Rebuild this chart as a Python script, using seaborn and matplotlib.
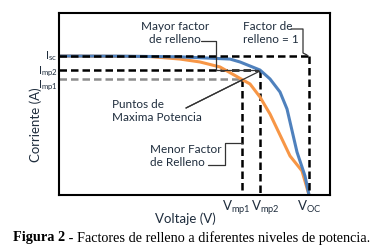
import matplotlib
matplotlib.use("Agg")
import matplotlib.pyplot as plt
import matplotlib.transforms as mtransforms
import seaborn as sns
import pandas as pd

sns.set_style("white")
plt.rcParams['font.family'] = ['Lato', 'DejaVu Sans']
plt.rcParams['mathtext.fontset'] = 'custom'
plt.rcParams['mathtext.rm'] = 'Lato'

# Data (Voc = 1, Isc = 1)
v_high = [0, 0.244, 0.484, 0.684, 0.724, 0.804, 0.844, 0.884, 0.912, 0.952, 0.984, 1.0]
i_high = [1.0, 0.999, 0.994, 0.978, 0.957, 0.899, 0.835, 0.741, 0.619, 0.309, 0.137, 0.0]
v_low = [0, 0.364, 0.484, 0.564, 0.644, 0.732, 0.764, 0.804, 0.832, 0.844, 0.924, 0.972, 1.0]
i_low = [1.0, 0.996, 0.978, 0.957, 0.921, 0.831, 0.799, 0.705, 0.619, 0.583, 0.281, 0.173, 0.0]

Isc, Imp2, Imp1 = 1.0, 0.899, 0.831
Voc, Vmp2, Vmp1 = 1.0, 0.804, 0.732
ytick_labels = [r'I$_{\mathregular{sc}}$', r'I$_{\mathregular{mp2}}$', r'I$_{\mathregular{mp1}}$']
xtick_labels = [r'V$_{\mathregular{mp1}}$', r'V$_{\mathregular{mp2}}$', r'V$_{\mathregular{OC}}$']

W, H = 384, 251
fig = plt.figure(figsize=(W / 100, H / 100), dpi=100)
L, T, R, B = 59, 14, 330, 196
ax = fig.add_axes([L / W, 1 - B / H, (R - L) / W, (B - T) / H])

XMAX = (R - L) / 250
YMAX = (B - T) / 139
ax.set_xlim(0, XMAX)
ax.set_ylim(0, YMAX)

def P(px, py):
    return (px - L) / 250, (B - py) / 139

dash = (0, (3.0, 1.6))
ax.plot([0, Voc], [Isc, Isc], color='black', lw=1.8, linestyle=dash, zorder=3)
ax.plot([Voc, Voc], [Isc, 0], color='black', lw=1.8, linestyle=dash, zorder=3)
ax.plot([0, Vmp2], [Imp2, Imp2], color='black', lw=1.8, linestyle=dash, zorder=1)
ax.plot([Vmp2, Vmp2], [Imp2, 0], color='black', lw=1.8, linestyle=dash, zorder=1)
ax.plot([0, Vmp1], [Imp1, Imp1], color='#8c8c8c', lw=1.8, linestyle=dash, zorder=1)
ax.plot([Vmp1, Vmp1], [Imp1, 0], color='black', lw=1.8, linestyle=dash, zorder=1)

df_high = pd.DataFrame({'V': v_high, 'I': i_high})
df_low = pd.DataFrame({'V': v_low, 'I': i_low})
sns.lineplot(data=df_low, x='V', y='I', color='#f79646', lw=2.2, ax=ax, zorder=2, sort=False)
sns.lineplot(data=df_high, x='V', y='I', color='#4f81bd', lw=2.2, ax=ax, zorder=2, sort=False)

txtc = '#1f2d3d'
ax.set_yticks([Isc, Imp2, Imp1], labels=ytick_labels)
ax.set_xticks([Vmp1, Vmp2, Voc], labels=xtick_labels)
ax.tick_params(axis='y', length=0, labelsize=8, colors=txtc, pad=1)
ax.tick_params(axis='x', length=0, labelsize=9.5, colors=txtc, pad=2)
ax.set_xlabel('')
ax.set_ylabel('')
for s in ax.spines.values():
    s.set_color('black')
    s.set_linewidth(1.5)

def shift(lbl, dx, dy):
    lbl.set_transform(lbl.get_transform() + mtransforms.ScaledTranslation(dx / 100, dy / 100, fig.dpi_scale_trans))

# shift the close tick labels apart, as in the reference
xl = ax.get_xticklabels()
xl[0].set_ha('right')
shift(xl[0], 9, 0)
xl[1].set_ha('left')
shift(xl[1], -9, 0)
yl = ax.get_yticklabels()
shift(yl[0], 0, 2.5)
shift(yl[1], 0, 2)
shift(yl[2], 0, -2.5)

fig.text(36 / W, 1 - 125 / H, 'Corriente (A)', rotation=90, ha='center', va='center', fontsize=9.5, color=txtc)
fig.text(185 / W, 1 - 219 / H, 'Voltaje (V)', ha='center', va='center', fontsize=9.5, color=txtc)

afs = 8.5
fig.text(175 / W, 1 - 33 / H, 'Mayor factor\nde relleno', ha='center', va='center', fontsize=afs, color=txtc, linespacing=1.2)
fig.text(243 / W, 1 - 33 / H, 'Factor de\nrelleno = 1', ha='left', va='center', fontsize=afs, color=txtc, linespacing=1.2)
fig.text(112 / W, 1 - 111 / H, 'Puntos de\nMaxima Potencia', ha='left', va='center', fontsize=afs, color=txtc, linespacing=1.2)
fig.text(150 / W, 1 - 156 / H, 'Menor Factor\nde Relleno', ha='left', va='center', fontsize=afs, color=txtc, linespacing=1.2)

def poly(pts, **kw):
    xs, ys = zip(*[P(a, b) for a, b in pts])
    ax.plot(xs, ys, color='#333333', lw=0.9, zorder=4, **kw)

poly([(201, 42), (216, 42), (216, 71), (258, 71)])
poly([(291, 30), (303, 30), (303, 54), (307, 56)])
poly([(208, 166), (225, 166), (225, 144), (242, 144)])
poly([(186, 109), (242, 81)])
poly([(186, 109), (260, 72)])

fig.canvas.draw()
t1 = fig.text(13 / W, 1 - 238 / H, 'Figura 2', ha='left', va='center', fontsize=10.3,
              family='Liberation Serif', weight='bold', color='black')
fig.canvas.draw()
bb = t1.get_window_extent()
fig.text(bb.x1 / W, 1 - 238 / H, ' - Factores de relleno a diferentes niveles de potencia.', ha='left', va='center',
         fontsize=10.3, family='Liberation Serif', color='black')

fig.savefig('out.png', dpi=100)
